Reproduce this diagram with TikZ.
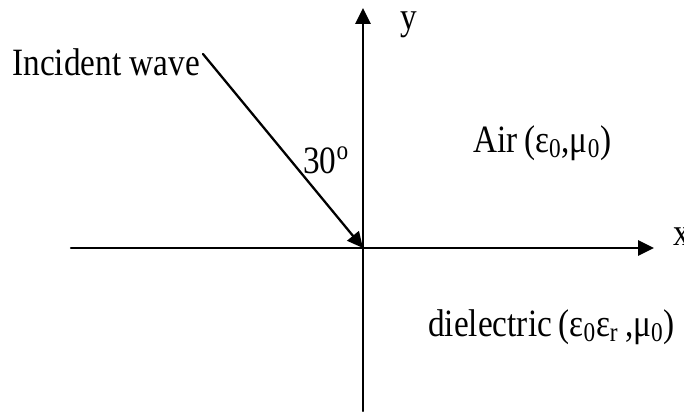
\documentclass[tikz,border=0pt]{standalone}
\usepackage{fontspec}
\setmainfont[FakeStretch=0.86]{Liberation Serif}
\usetikzlibrary{arrows.meta}
\begin{document}
\begin{tikzpicture}[line cap=round, line join=round, >={Triangle[length=9pt,width=8.5pt]},
	axis/.style={->, line width=1.3pt},
	lbl/.style={inner sep=0pt, anchor=base west, font=\fontsize{22}{26}\selectfont}]
	% Define window bounds
	\def\xmin{-7.26} \def\xmax{6.42}
	\def\ymin{-3.26} \def\ymax{4.96}
	\useasboundingbox (\xmin,\ymin) rectangle (\xmax,\ymax);
	
	% Origin, axis ends and start of the incident ray
	\coordinate (O) at (0,0);
	\coordinate (xl) at (-5.84,0);
	\coordinate (xr) at (5.82,0);
	\coordinate (yb) at (0,\ymin);
	\coordinate (yt) at (0,4.8);
	\coordinate (src) at (-3.2,3.88);
	
	% Draw Coordinate Axes
	\draw[axis] (xl) -- (xr);
	\draw[axis] (yb) -- (yt);
	
	% Incident ray hitting the interface at the origin
	\draw[axis] (src) -- (O);
	
	% Axis labels
	\node[lbl] (xlab) at (6.2,0.06) {x};
	\node[lbl] (ylab) at (0.74,4.38) {y};
	
	% Ray label and angle
	\node[lbl] (inc) at (-7.02,3.46) {Incident wave};
	\node[lbl] (ang) at (-1.2,1.5) {30\textsuperscript{o}};
	
	% Media on both sides of the interface
	\node[lbl] (air) at (2.2,1.92) {Air\,(ε\textsubscript{0},μ\textsubscript{0})};
	\node[lbl] (diel) at (1.3,-1.76) {dielectric\,(ε\textsubscript{0}ε\textsubscript{r}\,,μ\textsubscript{0})};
\end{tikzpicture}
\end{document}
